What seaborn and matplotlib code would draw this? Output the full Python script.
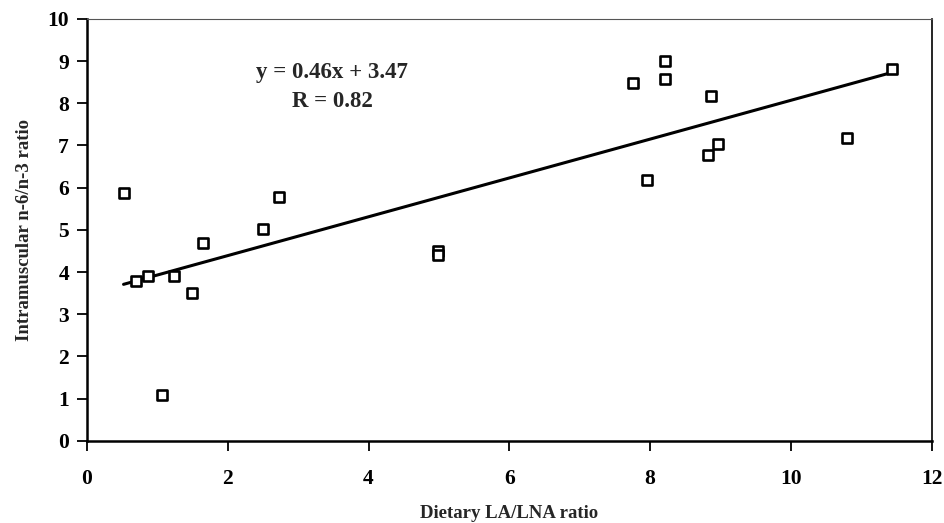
import numpy as np
import pandas as pd
import matplotlib
matplotlib.use("Agg")
import matplotlib.pyplot as plt
import seaborn as sns

# dietary LA/LNA ratio vs intramuscular n-6/n-3 ratio
dietary_ratio = [0.52, 0.70, 0.87, 1.24, 1.49, 1.65, 1.07, 2.50, 2.73,
                 4.98, 4.98, 7.75, 8.21, 8.21, 7.95, 8.86, 8.97, 8.82,
                 10.80, 11.44]
muscle_ratio = [5.88, 3.80, 3.91, 3.91, 3.50, 4.68, 1.08, 5.03, 5.79,
                4.50, 4.40, 8.48, 8.99, 8.58, 6.17, 8.18, 7.04, 6.77,
                7.17, 8.81]

slope = 0.46
intercept = 3.47
r_value = 0.82

df = pd.DataFrame({"x": dietary_ratio, "y": muscle_ratio})

sns.set_style("ticks")
plt.rcParams["font.family"] = ["Liberation Serif", "DejaVu Serif"]
plt.rcParams["font.weight"] = "bold"

fig = plt.figure(figsize=(9.45, 5.23), dpi=100)
ax = fig.add_axes([0.092, 0.157, 0.894, 0.807])

fit_x = np.array([min(dietary_ratio), max(dietary_ratio)])
fit_df = pd.DataFrame({"x": fit_x, "y": slope * fit_x + intercept})
sns.lineplot(data=fit_df, x="x", y="y", ax=ax, color="black", linewidth=2.2)

sns.scatterplot(
    data=df, x="x", y="y", ax=ax,
    marker="s", s=48, facecolor="white", edgecolor="black", linewidth=1.9,
    zorder=3
)

ax.set_xlim(0, 12)
ax.set_ylim(0, 10)
ax.set_xticks(range(0, 13, 2))
ax.set_yticks(range(0, 11))

ax.tick_params(axis="x", direction="out", length=7, width=1.3, pad=13,
               labelsize=15.5, colors="black", bottom=True)
ax.tick_params(axis="y", direction="out", length=7, width=1.3, pad=6,
               labelsize=15.5, colors="black", left=True)
for lab in ax.get_xticklabels() + ax.get_yticklabels():
    lab.set_fontweight("bold")

ax.spines["left"].set_linewidth(1.8)
ax.spines["bottom"].set_linewidth(1.8)
ax.spines["right"].set_linewidth(1.2)
ax.spines["top"].set_linewidth(0.8)
ax.spines["top"].set_color("#555555")
for s in ["left", "bottom", "right"]:
    ax.spines[s].set_color("black")

ax.set_xlabel("Dietary LA/LNA ratio", fontsize=13.5, fontweight="bold", labelpad=12)
ax.set_ylabel("Intramuscular n-6/n-3 ratio", fontsize=13.5, fontweight="bold", labelpad=10)

ax.text(3.48, 8.74, f"y = {slope:.2f}x + {intercept:.2f}", ha="center", va="center",
        fontsize=16.5, fontweight="bold")
ax.text(3.48, 8.03, f"R = {r_value:.2f}", ha="center", va="center",
        fontsize=16.5, fontweight="bold")

fig.savefig("out.png", dpi=100)
